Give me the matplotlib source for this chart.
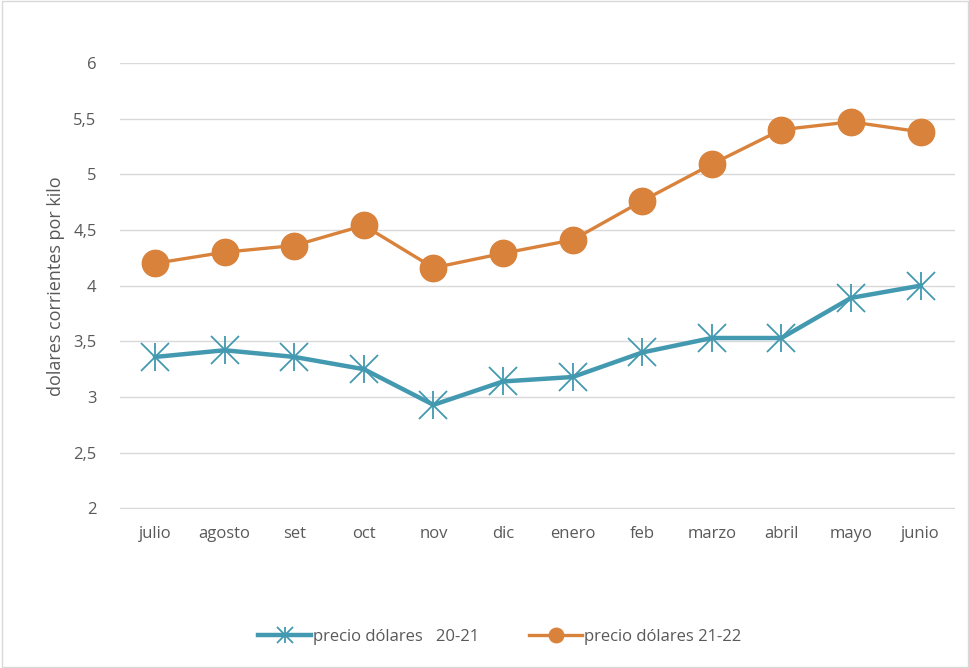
import matplotlib
matplotlib.use("Agg")
import matplotlib.pyplot as plt
from matplotlib.patches import Rectangle
from matplotlib.ticker import FuncFormatter

months = ["julio", "agosto", "set", "oct", "nov", "dic", "enero",
          "feb", "marzo", "abril", "mayo", "junio"]
precio_20_21 = [3.36, 3.42, 3.36, 3.25, 2.93, 3.14, 3.18, 3.40, 3.53, 3.53, 3.89, 4.00]
precio_21_22 = [4.20, 4.30, 4.36, 4.54, 4.16, 4.29, 4.41, 4.76, 5.09, 5.40, 5.47, 5.38]
y_ticks = [2, 2.5, 3, 3.5, 4, 4.5, 5, 5.5, 6]

BLUE = "#4299B0"
ORANGE = "#D9823B"
GREY = "#595959"

plt.rcParams["font.family"] = ["Open Sans", "DejaVu Sans"]

fig = plt.figure(figsize=(9.7, 6.68), dpi=100)
ax = fig.add_axes([0.124, 0.238, 0.861, 0.668])
x = range(len(months))

blue_line, = ax.plot(x, precio_20_21, color=BLUE, lw=3.2, marker="x",
                     markersize=20, markeredgewidth=1.3, zorder=3)
blue_bar, = ax.plot(x, precio_20_21, color=BLUE, lw=0, marker="|",
                    markersize=20, markeredgewidth=1.3, zorder=3)
orange_line, = ax.plot(x, precio_21_22, color=ORANGE, lw=2.4, marker="o",
                       markersize=19, zorder=3)

ax.set_xlim(-0.5, len(months) - 0.5)
ax.set_ylim(1.995, 6)
ax.set_yticks(y_ticks)
ax.yaxis.set_major_formatter(FuncFormatter(lambda v, _: f"{v:g}".replace(".", ",")))
ax.set_xticks(list(x))
ax.set_xticklabels(months)
ax.grid(axis="y", color="#D9D9D9", lw=1)
ax.set_axisbelow(True)
for s in ax.spines.values():
    s.set_visible(False)
ax.tick_params(length=0, colors=GREY, labelsize=12, pad=12)
ax.tick_params(axis="y", pad=17)
ax.set_ylabel("dolares corrientes por kilo", color=GREY, fontsize=13, labelpad=6)

leg = fig.legend([(blue_line, blue_bar), orange_line],
                 ["precio dólares   20-21", "precio dólares 21-22"],
                 loc="center", bbox_to_anchor=(0.515, 0.046), ncol=2,
                 frameon=False, fontsize=12, handlelength=3.2, handletextpad=0.1,
                 columnspacing=3.0, markerscale=0.55)
for t in leg.get_texts():
    t.set_color(GREY)

fig.patches.append(Rectangle((0.002, 0.002), 0.996, 0.996, transform=fig.transFigure,
                             fill=False, edgecolor="#D9D9D9", lw=1))

fig.savefig("out.png", dpi=100)
